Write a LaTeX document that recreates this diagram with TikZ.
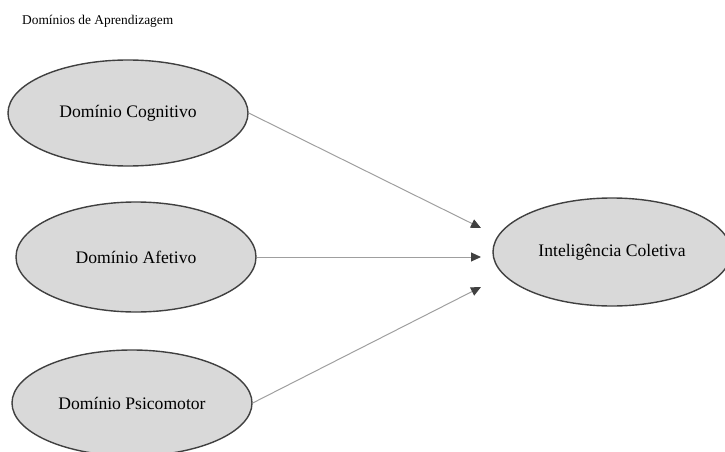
\documentclass[tikz,border=0pt]{standalone}
\usepackage{fontspec}
\setmainfont{Liberation Serif}
\usepackage{xcolor}
\definecolor{elfill}{RGB}{217,217,217}
\definecolor{eldraw}{RGB}{64,64,64}
\usepackage{tikz}
\usetikzlibrary{arrows.meta,shapes.geometric}
\tikzset{
  dominio/.style={ellipse,draw=eldraw,fill=elfill,line width=1.4pt,%
    minimum width=240pt,minimum height=106pt,inner sep=0pt,%
    font=\fontsize{17.6}{20}\selectfont},
  flow/.style={-{Triangle[length=10pt,width=9pt,color=eldraw]},line width=1pt,%
    draw=gray!75},
}

\begin{document}
\begin{tikzpicture}[x=1pt,y=-1pt]
\useasboundingbox (0,0) rectangle (725,452);
\node[anchor=west,inner sep=0pt,font=\fontsize{13.4}{16}\selectfont] (titulo) at (22,21) {Domínios de Aprendizagem};
\node[dominio] (cog) at (128,113) {Domínio Cognitivo};
\node[dominio,minimum height=110pt] (afe) at (136,257) {Domínio Afetivo};
\node[dominio] (psi) at (132,403) {Domínio Psicomotor};
\node[dominio,minimum width=238pt,minimum height=108pt] (ic) at (612,252) {Inteligência Coletiva};
\coordinate (p1) at (481,228);
\coordinate (p2) at (481,257);
\coordinate (p3) at (481,287);
\draw[flow] (cog.east) -- (p1);
\draw[flow] (afe.east) -- (p2);
\draw[flow] (psi.east) -- (p3);
\end{tikzpicture}
\end{document}
